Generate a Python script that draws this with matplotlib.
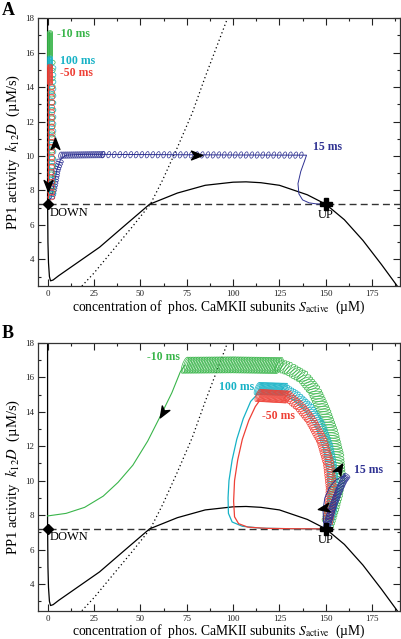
import numpy as np
import matplotlib
matplotlib.use('Agg')
import matplotlib.pyplot as plt
from matplotlib.path import Path
from matplotlib.markers import MarkerStyle
from matplotlib.transforms import Affine2D
from matplotlib.patheffects import AbstractPathEffect
from matplotlib.ticker import MultipleLocator

plt.rcParams['font.family'] = ['Liberation Serif', 'DejaVu Serif']
plt.rcParams['mathtext.fontset'] = 'stix'

# ---- data ----
# S-nullcline (solid) and D-nullcline (dotted), same in both panels
ncl_x = [0, 0, 0.2, 0.5, 1, 1.6, 3, 6, 10, 20, 28, 42, 55, 70, 85, 100, 107, 115, 125, 140, 150, 160, 170, 180, 188.5]
ncl_y = [18, 7.5, 5.0, 3.8, 3.0, 2.75, 2.8, 3.05, 3.35, 4.1, 4.7, 6.0, 7.2, 7.85, 8.3, 8.48, 8.5, 8.45, 8.3, 7.75, 7.2, 6.3, 5.1, 3.7, 2.45]
dot_x = [18.5, 25, 35, 45, 55.4, 62, 70, 78, 85, 91, 97]
dot_y = [2.45, 3.2, 4.5, 5.8, 7.2, 8.6, 10.5, 12.5, 14.6, 16.3, 18]
d_fix = 7.2
down_x, up_x = 0, 150

# panel A: stimuli starting from DOWN
blue_a_x = [0.5, 2, 3.5, 5, 7, 10, 20, 60, 100, 139.6, 138.5, 136.5, 135, 135.5, 137.5, 141, 145, 150]
blue_a_y = [7.3, 7.6, 8.3, 9.2, 9.8, 10.05, 10.1, 10.08, 10.06, 10.05, 9.7, 9.1, 8.4, 7.8, 7.45, 7.28, 7.22, 7.2]
blue_a_rise_x = [2, 3.5, 5, 7]
blue_a_rise_y = [7.6, 8.3, 9.2, 9.8]
blue_a_dense_x = [7, 30]
blue_a_dense_y = [10.05, 10.08]
blue_a_coil_x = [30, 139.6]
blue_a_coil_y = [10.08, 10.05]

green_a_y = [7.3, 17.2]
green_a_top = [15.8, 17.2]
cyan_a_y = [7.3, 15.75]
cyan_a_top = [15.2, 15.75]
red_a_y = [7.3, 15.3]
red_a_top = [14.2, 15.3]

# panel B: stimuli starting from UP
green_b_x = [0, 10, 20, 30, 38, 46, 54, 62, 67, 71.5, 74]
green_b_y = [7.95, 8.1, 8.45, 9.1, 9.9, 10.9, 12.3, 14.0, 15.1, 16.3, 16.7]
green_flat_x = [74, 100, 125]
green_flat_y = [16.7, 16.72, 16.68]
green_arc_x = [125, 130, 138, 144, 149, 153, 156, 157, 155.5, 153, 151]
green_arc_y = [16.68, 16.5, 16.0, 15.2, 14.0, 12.8, 11.5, 10.3, 9.2, 8.2, 7.5]
cyan_b_x = [150, 130, 115, 105, 99.5, 97.5, 97.3, 97.8, 99.5, 102, 105.5, 109.5, 113]
cyan_b_y = [7.2, 7.21, 7.24, 7.35, 7.6, 8.1, 9.0, 10.0, 11.2, 12.4, 13.6, 14.6, 15.0]
cyan_flat_x = [113, 128]
cyan_flat_y = [15.35, 15.3]
cyan_arc_x = [128, 134, 141, 147, 151, 153.5, 154, 153, 151]
cyan_arc_y = [15.3, 14.9, 14.2, 13.2, 12.0, 10.6, 9.3, 8.3, 7.5]
red_b_x = [150, 130, 118, 108, 103, 100.8, 100.3, 100.8, 102.5, 105, 108.5, 112, 114]
red_b_y = [7.2, 7.21, 7.23, 7.3, 7.5, 7.9, 8.8, 10.0, 11.2, 12.4, 13.5, 14.3, 14.6]
red_flat_x = [113.5, 130]
red_flat_y = [14.95, 14.85]
red_arc_x = [130, 136, 142, 148, 151.5, 153, 152.5, 151]
red_arc_y = [14.85, 14.3, 13.5, 12.3, 11.0, 9.6, 8.5, 7.6]
blue_b_x = [150.5, 152, 154.5, 157, 159.5, 161.5]
blue_b_y = [7.3, 7.9, 8.7, 9.4, 10.0, 10.3]
blue_b_thin_x = [150, 148.8, 148.5, 149.5, 152, 155, 158, 160.5]
blue_b_thin_y = [7.2, 7.6, 8.3, 9.0, 9.6, 10.0, 10.2, 10.3]

GREEN = '#39b54a'
CYAN = '#17b2c6'
RED = '#ee4036'
BLUE = '#2e3192'


class Loops(AbstractPathEffect):
    """small ellipses along a line, stand in for the fast oscillation of the trajectory"""
    def __init__(self, step, w, h, lw=0.5, tilt=0):
        super().__init__()
        self.step, self.w, self.h, self.lw = step, w, h, lw
        self.tilt = np.deg2rad(tilt)

    def draw_path(self, renderer, gc, tpath, affine, rgbFace=None):
        pts = affine.transform(tpath.vertices)
        dd = np.diff(pts, axis=0)
        seg = np.hypot(dd[:, 0], dd[:, 1])
        s = np.concatenate([[0], np.cumsum(seg)])
        k = renderer.points_to_pixels(0.72)  # size units = pixels at 100 dpi
        where = np.arange(0, s[-1], self.step * k)
        xs = np.interp(where, s, pts[:, 0])
        ys = np.interp(where, s, pts[:, 1])
        idx = np.clip(np.searchsorted(s, where, side='right') - 1, 0, len(seg) - 1)
        ang = np.arctan2(dd[idx, 1], dd[idx, 0])
        gc0 = renderer.new_gc()
        gc0.copy_properties(gc)
        gc0.set_linewidth(self.lw)
        circ = Path.unit_circle()
        for x, y, a in zip(xs, ys, ang):
            tr = (Affine2D().scale(self.w * k / 2, self.h * k / 2)
                  .rotate(a + self.tilt).translate(x, y))
            renderer.draw_path(gc0, circ, tr)
        gc0.restore()


def coil(ax, x, y, color, step, w, h, lw=0.5, tilt=0):
    ln, = ax.plot(x, y, color=color, zorder=3)
    ln.set_path_effects([Loops(step, w, h, lw, tilt)])


ARROW = Path([(1, 0), (-0.8, 0.7), (-0.3, 0), (-0.8, -0.7), (1, 0)],
             [Path.MOVETO, Path.LINETO, Path.LINETO, Path.LINETO, Path.CLOSEPOLY])


def arrow(ax, x, y, ang):
    m = MarkerStyle(ARROW, transform=Affine2D().rotate_deg(ang))
    ax.plot([x], [y], marker=m, ms=9, color='k', ls='none', zorder=6)


def base(ax):
    ax.axhline(d_fix, color='#333333', lw=1.0, ls=(0, (5, 3)), zorder=1)
    ax.plot(ncl_x, ncl_y, color='k', lw=0.9, zorder=2)
    ax.plot(dot_x, dot_y, color='k', lw=0.9, ls=(0, (1, 2.2)), zorder=2)
    ax.plot([down_x], [d_fix], marker='D', ms=5, color='k', zorder=7)
    ax.plot([up_x], [d_fix], marker='P', ms=8, color='k', zorder=7)
    ax.text(1.3, 6.7, 'DOWN', fontsize=9, va='center', ha='left')
    ax.text(up_x, 6.55, 'UP', fontsize=9, va='center', ha='center')
    ax.set_xlim(-5, 190)
    ax.set_ylim(2.45, 18)
    ax.set_xticks(np.arange(0, 176, 25))
    ax.set_yticks(np.arange(4, 19, 2))
    ax.xaxis.set_minor_locator(MultipleLocator(12.5))
    ax.yaxis.set_minor_locator(MultipleLocator(1))
    ax.tick_params(which='both', direction='in', top=True, right=True, width=0.8,
                   labelsize=6.5, pad=3, colors='#222222')
    ax.tick_params(which='major', length=5)
    ax.tick_params(which='minor', length=2.5)
    for sp in ax.spines.values():
        sp.set_linewidth(0.9)
        sp.set_color('#333333')
    ax.set_xlabel('concentration of  phos. CaMKII subunits $S_{\\rm active}$  (µM)',
                  fontsize=9.8, labelpad=0)
    ax.set_ylabel('PP1 activity  $k_{12}D$  (µM/s)', fontsize=10.5, labelpad=2)


fig = plt.figure(figsize=(4.01, 6.39), dpi=100)
axA = fig.add_axes([0.0955, 0.5524, 0.902, 0.4190])
axB = fig.add_axes([0.0955, 0.0443, 0.902, 0.4192])

# ---- panel A ----
base(axA)
axA.plot(blue_a_x, blue_a_y, color=BLUE, lw=0.7, zorder=3)
coil(axA, blue_a_rise_x, blue_a_rise_y, BLUE, 2.5, 3, 7)
coil(axA, blue_a_dense_x, blue_a_dense_y, BLUE, 2, 3.5, 6.5, tilt=-15)
coil(axA, blue_a_coil_x, blue_a_coil_y, BLUE, 5.5, 3.5, 6.5, tilt=-15)

axA.plot([0.9, 0.9], green_a_y, color=GREEN, lw=0.7, zorder=3)
coil(axA, [1.3, 1.3], green_a_top, GREEN, 1, 3, 5)
coil(axA, [2.2, 2.2], [8.0, green_a_top[0]], GREEN, 8, 5, 7)
axA.plot([0.6, 0.6], cyan_a_y, color=CYAN, lw=0.7, zorder=3)
coil(axA, [1.3, 1.3], cyan_a_top, CYAN, 1, 3, 5)
coil(axA, [2.6, 2.6], [7.8, cyan_a_top[0]], CYAN, 7, 5, 7)
axA.plot([0.3, 0.3], red_a_y, color=RED, lw=0.7, zorder=3)
coil(axA, [1.3, 1.3], red_a_top, RED, 1, 3, 5)
coil(axA, [2.0, 2.0], [7.6, red_a_top[0]], RED, 5, 5, 7)

arrow(axA, 4, 10.7, 90)
arrow(axA, 0.3, 8.3, -90)
arrow(axA, 80, 10.06, 0)

axA.text(5, 17.1, '-10 ms', color=GREEN, fontsize=8.5, fontweight='bold', va='center')
axA.text(6.5, 15.5, '100 ms', color=CYAN, fontsize=8.5, fontweight='bold', va='center')
axA.text(6.5, 14.8, '-50 ms', color=RED, fontsize=8.5, fontweight='bold', va='center')
axA.text(143, 10.5, '15 ms', color=BLUE, fontsize=8.5, fontweight='bold', va='center')

# ---- panel B ----
base(axB)
axB.plot(green_b_x, green_b_y, color=GREEN, lw=0.8, zorder=3)
coil(axB, green_flat_x, green_flat_y, GREEN, 1.6, 5, 17, tilt=-20)
coil(axB, green_arc_x, green_arc_y, GREEN, 2.8, 5, 14, tilt=-20)
axB.plot(cyan_b_x, cyan_b_y, color=CYAN, lw=0.9, zorder=3)
coil(axB, cyan_flat_x, cyan_flat_y, CYAN, 1.2, 4, 13, tilt=-20)
coil(axB, cyan_arc_x, cyan_arc_y, CYAN, 2.5, 4.5, 11, tilt=-20)
axB.plot(red_b_x, red_b_y, color=RED, lw=0.9, zorder=3)
coil(axB, red_flat_x, red_flat_y, RED, 1.2, 4, 13, tilt=-20)
coil(axB, red_arc_x, red_arc_y, RED, 2.5, 4.5, 11, tilt=-20)
axB.plot(blue_b_thin_x, blue_b_thin_y, color=BLUE, lw=0.7, zorder=3)
coil(axB, blue_b_x, blue_b_y, BLUE, 1.5, 3, 7)

arrow(axB, 62, 14.0, 239)
arrow(axB, 157, 10.7, 60)
arrow(axB, 149, 8.4, 190)

axB.text(71.5, 17.2, '-10 ms', color=GREEN, fontsize=8.5, fontweight='bold', va='center', ha='right')
axB.text(111.5, 15.45, '100 ms', color=CYAN, fontsize=8.5, fontweight='bold', va='center', ha='right')
axB.text(115.5, 13.75, '-50 ms', color=RED, fontsize=8.5, fontweight='bold', va='center', ha='left')
axB.text(165, 10.6, '15 ms', color=BLUE, fontsize=8.5, fontweight='bold', va='center', ha='left')

fig.text(0.004, 1 - 15 / 639, 'A', fontsize=13, fontweight='bold', va='baseline')
fig.text(0.004, 1 - 338 / 639, 'B', fontsize=13, fontweight='bold', va='baseline')

fig.savefig('out.png', dpi=100)
